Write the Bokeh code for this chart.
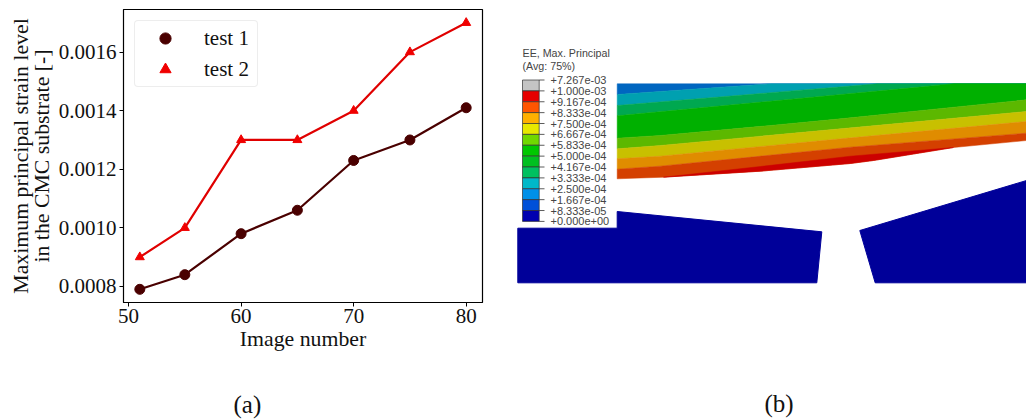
from bokeh.plotting import figure
from bokeh.layouts import row
from bokeh.models import FixedTicker, NumeralTickFormatter, Legend, LegendItem, Range1d, Title
from bokeh.core.properties import value
from bokeh.embed import file_html
from bokeh.resources import INLINE

# ---- panel (a) data
image_number = [51, 55, 60, 65, 70, 75, 80]
test_1 = [0.00079, 0.00084, 0.00098, 0.00106, 0.00123, 0.00130, 0.00141]
test_2 = [0.00090, 0.00100, 0.00130, 0.00130, 0.00140, 0.00160, 0.00170]
x_ticks = [50, 60, 70, 80]
y_ticks = [0.0008, 0.0010, 0.0012, 0.0014, 0.0016]

# ---- panel (b) data: contour legend
contour_labels = ["+7.267e-03", "+1.000e-03", "+9.167e-04", "+8.333e-04", "+7.500e-04",
                  "+6.667e-04", "+5.833e-04", "+5.000e-04", "+4.167e-04", "+3.333e-04",
                  "+2.500e-04", "+1.667e-04", "+8.333e-05", "+0.000e+00"]
contour_colors = ["#c4c4c4", "#e60000", "#ff5500", "#ffb000", "#e8e800", "#70d800", "#00c800",
                  "#00c020", "#00c060", "#00b8c8", "#0090e8", "#0050d8", "#0000b0"]

# ---- panel (b) data: contour bands of the upper part, left to right
top_x = [616.7, 1026.0]
top_y = [83.3, 83.3]
L1 = ([616.7, 770.0], [94.0, 83.3])
L2 = ([616.7, 876.7], [105.0, 83.3])
L3 = ([616.7, 953.3], [115.3, 83.3])
L4 = ([616.7, 660.0, 770.0, 840.0, 1026.0], [137.7, 135.0, 125.0, 118.3, 99.3])
L5 = ([616.7, 660.0, 840.0, 1026.0], [148.3, 145.0, 128.3, 111.0])
L6 = ([616.7, 660.0, 840.0, 1026.0], [158.3, 155.7, 138.3, 121.0])
L7 = ([616.7, 660.0, 850.0, 1026.0], [168.7, 165.7, 146.7, 132.7])
L8 = ([663.0, 760.0, 850.0, 953.0], [176.7, 166.0, 155.7, 147.0])
edge = ([616.7, 663.0, 760.0, 850.0, 873.0, 953.0, 1026.0],
        [178.3, 176.7, 170.7, 163.0, 160.0, 147.0, 140.0])
band_colors = ["#0066c0", "#00a0b0", "#00a850", "#00b000", "#5cb800", "#c8c000", "#e08c00", "#d44000", "#cc0000"]

# ---- panel (b) data: lower parts
left_part_x = [517.3, 616.7, 616.7, 821.3, 816.3, 517.3]
left_part_y = [227.7, 227.7, 211.0, 231.3, 282.3, 282.3]
right_part_x = [859.3, 874.7, 1026.0, 1026.0]
right_part_y = [230.0, 282.3, 282.3, 180.0]

SERIF = "Liberation Serif"
SANS = "Liberation Sans"
W, H = 1026, 420
SPLIT = 508
FT, FB = 9, 302      # frame top and bottom, shared by both panels
FL, FR = 123, 482

# ---------- panel (a)
a = figure(width=SPLIT, height=H, output_backend="svg", toolbar_location=None,
           x_range=Range1d(49.55, 81.45), y_range=Range1d(0.000745, 0.0017455),
           min_border_left=FL, min_border_right=SPLIT - FR, min_border_top=FT, min_border_bottom=H - FB)
a.grid.visible = False
a.outline_line_color = "black"
a.outline_line_width = 1.2
a.background_fill_color = None
a.border_fill_color = None
for ax in (a.xaxis[0], a.yaxis[0]):
    ax.major_label_text_font = SERIF
    ax.major_label_text_font_size = "21px"
    ax.major_label_text_color = "#111111"
    ax.axis_label_text_font = SERIF
    ax.axis_label_text_font_size = "21.8px"
    ax.axis_label_text_font_style = "normal"
    ax.axis_label_text_color = "#111111"
    ax.major_tick_out = 4
    ax.major_tick_in = 0
    ax.minor_tick_out = 0
    ax.minor_tick_in = 0
    ax.major_tick_line_color = "black"
    ax.axis_line_color = "black"
a.xaxis[0].ticker = FixedTicker(ticks=x_ticks)
a.yaxis[0].ticker = FixedTicker(ticks=y_ticks)
a.yaxis[0].formatter = NumeralTickFormatter(format="0.0000")
a.xaxis[0].axis_label = "Image number"
a.yaxis[0].axis_label = "Maximum principal strain level\nin the CMC substrate [-]"
a.yaxis[0].axis_label_text_line_height = 0.85
a.xaxis[0].major_label_standoff = 2
a.yaxis[0].major_label_standoff = 3
a.xaxis[0].axis_label_standoff = 1
a.yaxis[0].axis_label_standoff = 2

a.line(image_number, test_1, line_color="#4a0000", line_width=2.2)
a.line(image_number, test_2, line_color="#e00000", line_width=2.2)
r1 = a.scatter(image_number, test_1, marker="circle", size=10, color="#4a0000")
r2 = a.scatter(image_number, test_2, marker="triangle", size=9, color="#f00000")
legend = Legend(items=[LegendItem(label="test 1", renderers=[r1]), LegendItem(label="test 2", renderers=[r2])],
                location=(11, 215), padding=3, spacing=3, margin=0,
                glyph_width=54, glyph_height=28, label_height=28, label_width=50, label_standoff=12,
                label_text_font=SERIF, label_text_font_size="21px", label_text_color="#111111",
                border_line_color="#dcdcdc", border_line_width=1, background_fill_alpha=0.8)
if "border_radius" in Legend.properties():
    legend.border_radius = 4
a.add_layout(legend, "center")

def spacer(height):
    return Title(text=" ", text_font_size="1px", standoff=height, text_color="white")

def caption(text, offset):
    return Title(text=text, align="left", offset=offset, standoff=0, vertical_align="top",
                 text_font=SERIF, text_font_size="25px", text_font_style="normal", text_color="#111111")

a.add_layout(spacer(34), "below")
a.add_layout(caption("(a)", 110), "below")

# ---------- panel (b)
b = figure(width=W - SPLIT, height=H, output_backend="svg", toolbar_location=None,
           x_range=Range1d(SPLIT, W), y_range=Range1d(FB, FT),
           min_border_left=0, min_border_right=0, min_border_top=FT, min_border_bottom=H - FB,
           x_axis_type=None, y_axis_type=None)
b.grid.visible = False
b.outline_line_color = None
b.background_fill_color = None
b.border_fill_color = None

def upper(i):
    xs, ys = bounds[i]
    if i in (1, 2, 3):
        return list(xs) + [top_x[1]], list(ys) + [top_y[1]]
    return list(xs), list(ys)
bounds = [(top_x, top_y), L1, L2, L3, L4, L5, L6, L7, edge]
for i, col in enumerate(band_colors[:8]):
    ux, uy = upper(i)
    lx, ly = upper(i + 1)
    b.patch(ux + lx[::-1], uy + ly[::-1], color=col, line_width=0.5)
b.patch(L8[0] + edge[0][1:6][::-1], L8[1] + edge[1][1:6][::-1], color=band_colors[8], line_width=0.5)
b.patch(left_part_x, left_part_y, color="#000099")
b.patch(right_part_x, right_part_y, color="#000099")

n = len(contour_colors)
bar_top, step = 79.5, 141.4 / n
tops = [bar_top + i * step for i in range(n)]
bots = [t + step for t in tops]
b.quad(left=522, right=538.7, top=tops, bottom=bots, fill_color=contour_colors,
       line_color="#333333", line_width=0.7)
lab_y = [bar_top + i * step for i in range(n + 1)]
b.segment(x0=[538.7] * (n + 1), x1=[544] * (n + 1), y0=lab_y, y1=lab_y, line_color="#333333", line_width=0.8)
b.text(x=[550] * (n + 1), y=lab_y, text=contour_labels, text_font=value(SANS), text_font_size="11px",
       text_color="#444444", text_baseline="middle", text_align="left")
b.text(x=[522, 522], y=[52, 65], text=["EE, Max. Principal", "(Avg: 75%)"], text_font=value(SANS),
       text_font_size="10.7px", text_color="#444444", text_baseline="middle", text_align="left")
b.add_layout(spacer(84), "below")
b.add_layout(caption("(b)", 256), "below")

page = row(a, b, spacing=0)
open("out.html", "w").write(file_html(page, INLINE))
